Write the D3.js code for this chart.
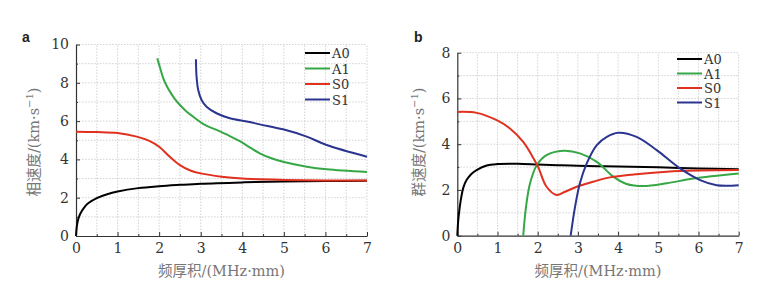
<!DOCTYPE html>
<html>
<head>
<meta charset="utf-8">
<script src="https://cdn.jsdelivr.net/npm/d3@7"></script>
<style>
  body { margin: 0; background: #fff; }
  svg { display: block; }
</style>
</head>
<body>
<div id="chart"></div>
<script>
// data: [frequency-thickness, velocity]
const legendNames = ["A0", "A1", "S0", "S1"];

// a: phase velocity
const phaseA0 = [[0, 0], [0.02, 0.5], [0.05, 0.85], [0.1, 1.15], [0.2, 1.5], [0.3, 1.72], [0.5, 1.98], [0.75, 2.18], [1, 2.32], [1.5, 2.5], [2, 2.6], [2.5, 2.67], [3, 2.73], [4, 2.8], [5, 2.85], [6, 2.87], [7, 2.88]];
const phaseA1 = [[1.955, 9.28], [2.02, 8.8], [2.1, 8.23], [2.18, 7.85], [2.26, 7.54], [2.38, 7.15], [2.5, 6.84], [2.65, 6.52], [2.82, 6.23], [3.1, 5.8], [3.38, 5.54], [3.7, 5.22], [3.94, 4.95], [4.2, 4.6], [4.42, 4.32], [4.7, 4.06], [4.98, 3.88], [5.55, 3.62], [6.03, 3.48], [7, 3.34]];
const phaseS0 = [[0, 5.45], [0.5, 5.43], [1, 5.38], [1.46, 5.19], [1.75, 4.98], [2, 4.66], [2.25, 4.15], [2.5, 3.7], [2.75, 3.42], [3, 3.27], [3.5, 3.1], [4, 3.0], [5, 2.93], [6, 2.9], [7, 2.9]];
const phaseS1 = [[2.885, 9.23], [2.9, 8.32], [2.94, 7.62], [3.02, 7.1], [3.14, 6.75], [3.38, 6.41], [3.7, 6.15], [4.14, 5.97], [4.42, 5.83], [4.98, 5.57], [5.55, 5.19], [6.03, 4.75], [7, 4.14]];

// b: group velocity
const groupA0 = [[0, 0], [0.02, 0.6], [0.05, 1.1], [0.1, 1.7], [0.15, 2.1], [0.23, 2.43], [0.35, 2.7], [0.48, 2.87], [0.73, 3.07], [1, 3.13], [1.5, 3.14], [2, 3.11], [2.5, 3.08], [3, 3.06], [3.5, 3.04], [4, 3.02], [5, 2.99], [6, 2.94], [7, 2.9]];
const groupA1 = [[1.64, 0], [1.71, 1.27], [1.81, 2.29], [1.98, 3.09], [2.22, 3.52], [2.64, 3.71], [3.05, 3.6], [3.47, 3.23], [3.88, 2.58], [4.21, 2.26], [4.63, 2.17], [5.21, 2.29], [5.87, 2.5], [7, 2.72]];
const groupS0 = [[0, 5.41], [0.48, 5.37], [0.98, 5.05], [1.31, 4.69], [1.64, 4.1], [1.85, 3.52], [2.01, 3.01], [2.22, 2.14], [2.47, 1.78], [2.68, 1.92], [2.97, 2.14], [3.38, 2.36], [3.8, 2.55], [4.38, 2.68], [5.21, 2.8], [6.04, 2.85], [7, 2.87]];
const groupS1 = [[2.82, 0], [2.93, 1.27], [3.05, 2.29], [3.22, 3.16], [3.47, 3.96], [3.72, 4.32], [4.0, 4.5], [4.46, 4.32], [4.96, 3.74], [5.54, 2.94], [6.04, 2.43], [6.45, 2.21], [7, 2.21]];

const xTicks = [0, 1, 2, 3, 4, 5, 6, 7];
const yTicksA = [0, 2, 4, 6, 8, 10];
const yTicksB = [0, 2, 4, 6, 8];

const colors = ["#000000", "#35a845", "#e0311f", "#2b3590"];

const svg = d3.select("#chart")
    .append("svg")
    .attr("width", 760)
    .attr("height", 297);

function drawPanel(opt) {
    const x = d3.scaleLinear().domain([0, 7]).range([opt.left, opt.right]);
    const y = d3.scaleLinear().domain([0, opt.yMax]).range([opt.bottom, opt.top]);
    const g = svg.append("g");

    // grid: every 0.5 on x, every 1 on y
    g.append("g")
        .selectAll("line")
        .data(d3.range(0.5, 7.01, 0.5))
        .join("line")
        .attr("x1", d => x(d)).attr("x2", d => x(d))
        .attr("y1", opt.bottom).attr("y2", opt.top)
        .attr("stroke", "#c8c8c8").attr("stroke-width", 0.8)
        .attr("stroke-dasharray", "1.5,1.5");
    g.append("g")
        .selectAll("line")
        .data(d3.range(1, opt.yMax + 0.01, 1))
        .join("line")
        .attr("x1", opt.left).attr("x2", opt.right)
        .attr("y1", d => y(d)).attr("y2", d => y(d))
        .attr("stroke", "#c8c8c8").attr("stroke-width", 0.8)
        .attr("stroke-dasharray", "1.5,1.5");

    // axes, ticks inside
    g.append("g")
        .attr("transform", `translate(0,${opt.bottom})`)
        .call(d3.axisBottom(x).tickValues(xTicks).tickFormat(d3.format("d"))
            .tickSizeInner(-4).tickSizeOuter(0).tickPadding(7));
    g.append("g")
        .attr("transform", `translate(0,${opt.bottom})`)
        .call(d3.axisBottom(x).tickValues(d3.range(0.5, 7, 1)).tickSizeInner(-2).tickSizeOuter(0).tickFormat(""))
        .call(a => a.select(".domain").remove());
    g.append("g")
        .attr("transform", `translate(${opt.left},0)`)
        .call(d3.axisLeft(y).tickValues(opt.yTicks).tickFormat(d3.format("d"))
            .tickSizeInner(-4).tickSizeOuter(0).tickPadding(7));
    g.append("g")
        .attr("transform", `translate(${opt.left},0)`)
        .call(d3.axisLeft(y).tickValues(d3.range(1, opt.yMax, 2)).tickSizeInner(-2).tickSizeOuter(0).tickFormat(""))
        .call(a => a.select(".domain").remove());

    g.selectAll(".domain").attr("stroke", "#333").attr("stroke-width", 1.2);
    g.selectAll(".tick line").attr("stroke", "#333");
    g.selectAll(".tick text")
        .attr("font-family", "'DejaVu Serif', serif")
        .attr("font-size", 14)
        .attr("fill", "#333");

    // curves
    const line = d3.line()
        .x(d => x(d[0]))
        .y(d => y(d[1]))
        .curve(d3.curveCatmullRom.alpha(0.5));
    opt.series.forEach(function (s, i) {
        g.append("path")
            .datum(s)
            .attr("fill", "none")
            .attr("stroke", colors[i])
            .attr("stroke-width", 2)
            .attr("d", line);
    });

    // legend
    legendNames.forEach(function (name, i) {
        const ly = opt.legY + i * opt.legStep;
        g.append("line")
            .attr("x1", opt.legX).attr("x2", opt.legX + 25)
            .attr("y1", ly).attr("y2", ly)
            .attr("stroke", colors[i]).attr("stroke-width", 2);
        g.append("text")
            .attr("x", opt.legX + 27).attr("y", ly + 5)
            .attr("font-family", "'DejaVu Serif', serif")
            .attr("font-size", 13)
            .attr("fill", "#333")
            .text(name);
    });

    // axis titles
    const xt = g.append("text")
        .attr("x", (opt.left + opt.right) / 2)
        .attr("y", 276)
        .attr("text-anchor", "middle")
        .attr("fill", "#777")
        .attr("font-size", 14.5);
    xt.append("tspan").attr("font-family", "'Noto Sans CJK SC'").text("频厚积");
    xt.append("tspan").attr("font-family", "'DejaVu Serif', serif").text("/(MHz·mm)");

    const yt = g.append("text")
        .attr("transform", `translate(${opt.yTitleX},142) rotate(-90)`)
        .attr("text-anchor", "middle")
        .attr("fill", "#777")
        .attr("font-size", 14.5);
    yt.append("tspan").attr("font-family", "'Noto Sans CJK SC'").text(opt.yTitle);
    yt.append("tspan").attr("font-family", "'DejaVu Serif', serif").text("/(km·s");
    yt.append("tspan").attr("font-family", "'DejaVu Serif', serif")
        .attr("font-size", 10).attr("dy", -6).text("−1");
    yt.append("tspan").attr("font-family", "'DejaVu Serif', serif")
        .attr("dy", 6).text(")");

    // panel letter
    g.append("text")
        .attr("x", opt.labelX).attr("y", 42)
        .attr("font-family", "'Liberation Sans', Arial, sans-serif")
        .attr("font-weight", "bold")
        .attr("font-size", 14)
        .attr("fill", "#222")
        .text(opt.label);
}

drawPanel({
    left: 76, right: 367, top: 44.5, bottom: 236, yMax: 10, yTicks: yTicksA,
    series: [phaseA0, phaseA1, phaseS0, phaseS1],
    legX: 305, legY: 53, legStep: 15.5,
    yTitle: "相速度", yTitleX: 39, label: "a", labelX: 22
});

drawPanel({
    left: 457.3, right: 738.7, top: 52.7, bottom: 235.7, yMax: 8, yTicks: yTicksB,
    series: [groupA0, groupA1, groupS0, groupS1],
    legX: 677, legY: 59, legStep: 14.5,
    yTitle: "群速度", yTitleX: 424, label: "b", labelX: 414
});
</script>
</body>
</html>
